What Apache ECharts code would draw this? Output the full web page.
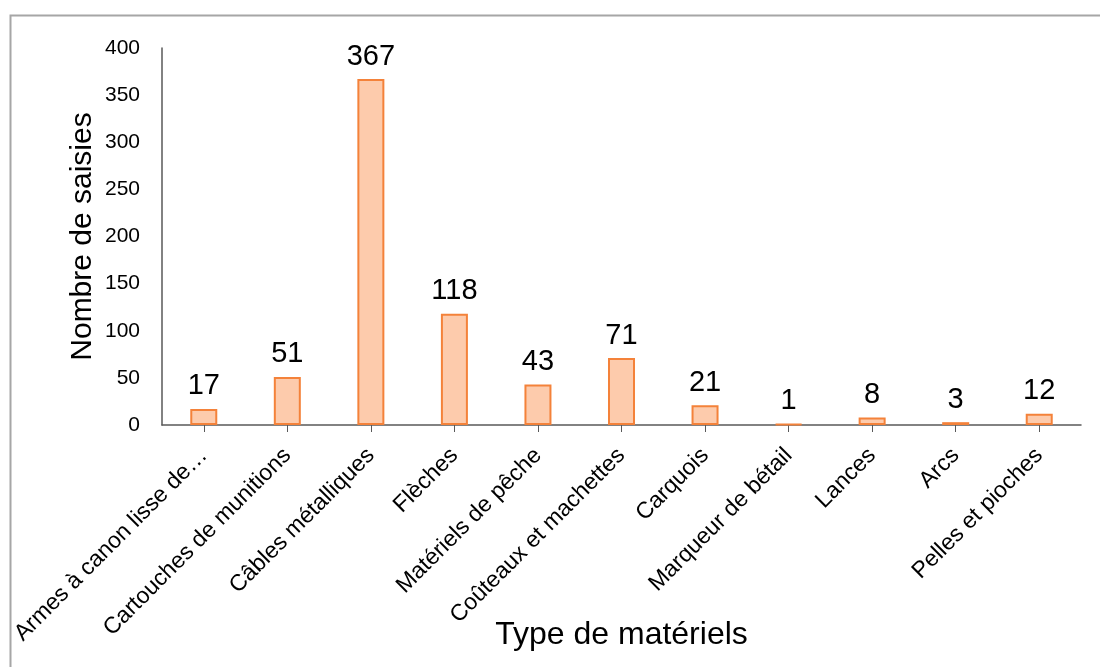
<!DOCTYPE html>
<html>
<head>
<meta charset="utf-8">
<script src="https://cdn.jsdelivr.net/npm/echarts@6/dist/echarts.min.js"></script>
<style>
html, body { margin: 0; padding: 0; background: #fff; }
#chart { width: 1100px; height: 667px; }
</style>
</head>
<body>
<div id="chart"></div>
<script>
var myChart = echarts.init(document.getElementById('chart'));

var categories = [
    'Armes à canon lisse de…',
    'Cartouches de munitions',
    'Câbles métalliques',
    'Flèches',
    'Matériels de pêche',
    'Coûteaux et machettes',
    'Carquois',
    'Marqueur de bétail',
    'Lances',
    'Arcs',
    'Pelles et pioches'
];
var values = [17, 51, 367, 118, 43, 71, 21, 1, 8, 3, 12];
var yTicks = { min: 0, max: 400, interval: 50 };

var font = '"Liberation Sans", Arial, sans-serif';

var option = {
    animation: false,
    backgroundColor: '#fff',
    graphic: [{
        type: 'rect',
        left: 8,
        top: 13,
        shape: { width: 1200, height: 700 },
        style: { fill: 'none', stroke: '#a6a6a6', lineWidth: 2 },
        silent: true
    }],
    grid: {
        left: 162,
        right: 19,
        top: 48,
        bottom: 242,
        containLabel: false,
        outerBoundsMode: 'none'
    },
    xAxis: {
        type: 'category',
        data: categories,
        name: 'Type de matériels',
        nameLocation: 'middle',
        nameGap: 194,
        nameMoveOverlap: false,
        nameTextStyle: { fontFamily: font, fontSize: 32, color: '#000' },
        axisLine: { lineStyle: { color: '#595959', width: 1.5 } },
        axisTick: { show: true, alignWithLabel: true, length: 7, lineStyle: { color: '#595959' } },
        axisLabel: {
            interval: 0,
            rotate: 45,
            margin: 27,
            fontFamily: font,
            fontSize: 23,
            color: '#000'
        }
    },
    yAxis: {
        type: 'value',
        min: yTicks.min,
        max: yTicks.max,
        interval: yTicks.interval,
        name: 'Nombre de saisies',
        nameLocation: 'middle',
        nameGap: 64,
        nameMoveOverlap: false,
        nameTextStyle: { fontFamily: font, fontSize: 30, color: '#000' },
        axisLine: { show: true, lineStyle: { color: '#595959', width: 1.5 } },
        axisTick: { show: false },
        splitLine: { show: false },
        axisLabel: {
            margin: 22,
            fontFamily: font,
            fontSize: 21,
            color: '#000'
        }
    },
    series: [{
        type: 'bar',
        data: values,
        barWidth: 27,
        itemStyle: {
            color: '#fdcbac',
            borderColor: '#f4823a',
            borderWidth: 2
        },
        label: {
            show: true,
            position: 'top',
            distance: 8,
            fontFamily: font,
            fontSize: 29,
            color: '#000'
        }
    }]
};
myChart.setOption(option);
</script>
</body>
</html>
